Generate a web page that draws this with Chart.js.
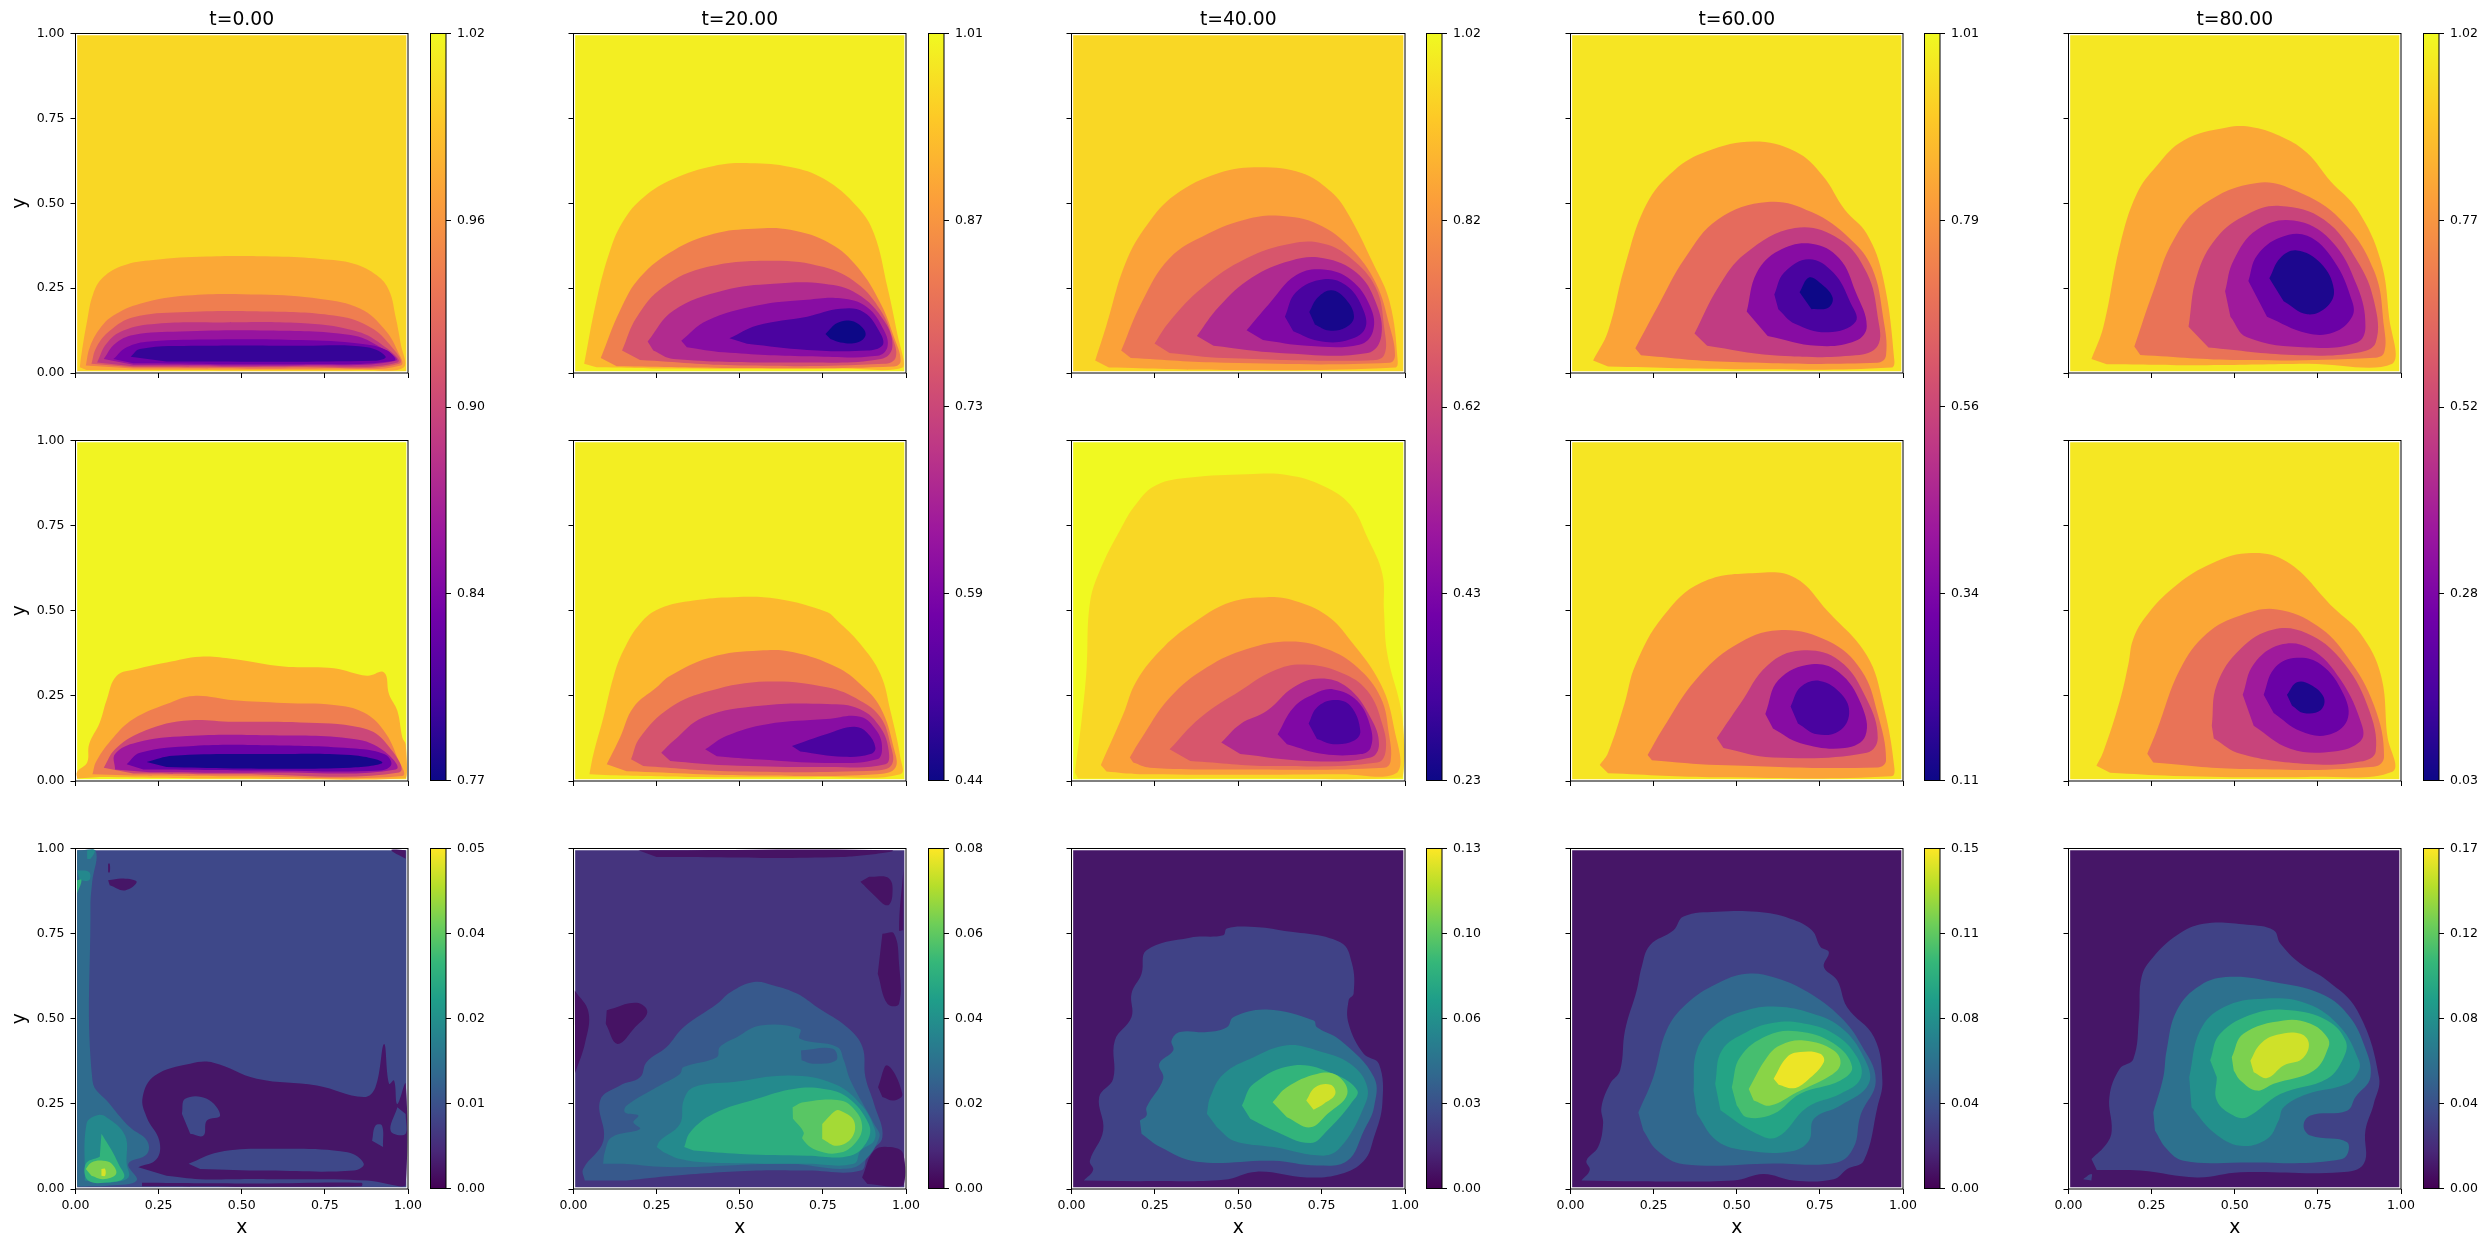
<!DOCTYPE html>
<html>
<head>
<meta charset="utf-8">
<title>contours</title>
<script src="https://cdn.jsdelivr.net/npm/chart.js@4/dist/chart.umd.js"></script>
<style>
  html, body { margin: 0; padding: 0; background: #fff; overflow: hidden; }
  canvas { position: absolute; }
</style>
</head>
<body>
<script>
const titles = ['t=0.00', 't=20.00', 't=40.00', 't=60.00', 't=80.00'];
const axisTicks = [0, 0.25, 0.5, 0.75, 1];

const barTicksField = [
  ['0.77', '0.84', '0.90', '0.96', '1.02'],
  ['0.44', '0.59', '0.73', '0.87', '1.01'],
  ['0.23', '0.43', '0.62', '0.82', '1.02'],
  ['0.11', '0.34', '0.56', '0.79', '1.01'],
  ['0.03', '0.28', '0.52', '0.77', '1.02']
];
const barTicksError = [
  ['0.00', '0.01', '0.02', '0.04', '0.05'],
  ['0.00', '0.02', '0.04', '0.06', '0.08'],
  ['0.00', '0.03', '0.06', '0.10', '0.13'],
  ['0.00', '0.04', '0.08', '0.11', '0.15'],
  ['0.00', '0.04', '0.08', '0.12', '0.17']
];

const plasma = ['#0d0887', '#46039f', '#7201a8', '#9c179e', '#bd3786', '#d8576b', '#ed7953', '#fb9f3a', '#fdca26', '#f0f921'];
const viridis = ['#440154', '#482878', '#3e4989', '#31688e', '#26828e', '#1f9e89', '#35b779', '#6ece58', '#b5de2b', '#fde725'];

// every band is [level, outline as x,y,x,y...] in data units, painted in order
const fieldBox = [.005,.005, .995,.005, .995,.995, .005,.995];

const exact_t0 = [
  [1.00, fieldBox],
  [.97, [.013,.017, .018,.056, .035,.154, .053,.233, .083,.282, .144,.317, .234,.333, .395,.343, .606,.343, .737,.336, .837,.322, .907,.287, .943,.243, .963,.164, .978,.086, .988,.017, .877,.009, .274,.009, .033,.009]],
  [.94, [.031,.022, .043,.076, .073,.13, .114,.169, .194,.204, .335,.228, .556,.231, .737,.218, .857,.189, .928,.13, .968,.066, .978,.022, .777,.013, .174,.013]],
  [.91, [.048,.027, .063,.076, .104,.125, .174,.164, .315,.179, .576,.181, .777,.169, .877,.14, .943,.086, .973,.027, .676,.017, .174,.017]],
  [.88, [.065,.031, .093,.086, .144,.125, .244,.145, .425,.149, .676,.147, .837,.125, .918,.086, .968,.031, .676,.02, .174,.02]],
  [.85, [.085,.041, .119,.086, .174,.112, .315,.122, .576,.125, .827,.112, .908,.081, .963,.036, .676,.023, .174,.024]],
  [.825, [.114,.041, .154,.076, .224,.093, .425,.099, .676,.097, .857,.086, .938,.066, .958,.036, .676,.026, .174,.029]],
  [.79, [.166,.048, .194,.071, .375,.08, .676,.08, .877,.076, .933,.048, .897,.036, .274,.034]]
];
const exact_t20 = [
  [.995, fieldBox],
  [.92, [.032,.027, .069,.213, .11,.361, .151,.45, .211,.518, .301,.572, .422,.61, .532,.618, .652,.607, .753,.572, .854,.489, .904,.41, .944,.253, .974,.115, .992,.017, .803,.013, .301,.013, .069,.017]],
  [.83, [.082,.044, .14,.184, .2,.282, .301,.361, .422,.41, .542,.425, .652,.422, .773,.381, .854,.312, .924,.204, .964,.105, .984,.036, .964,.019, .502,.015, .13,.02]],
  [.75, [.146,.066, .19,.164, .27,.253, .401,.312, .602,.331, .753,.312, .854,.263, .924,.184, .959,.105, .969,.046, .934,.027, .502,.022, .2,.038]],
  [.67, [.223,.093, .301,.184, .451,.243, .602,.263, .753,.263, .854,.233, .934,.154, .959,.076, .924,.041, .703,.031, .301,.041, .24,.066]],
  [.60, [.324,.095, .401,.154, .552,.199, .703,.216, .803,.22, .883,.194, .934,.125, .944,.076, .914,.051, .703,.049, .452,.061, .341,.076]],
  [.51, [.469,.102, .552,.14, .703,.166, .803,.189, .873,.179, .924,.115, .929,.081, .883,.066, .703,.068, .522,.086]],
  [.44, [.758,.115, .793,.147, .833,.154, .868,.135, .878,.11, .853,.09, .803,.09, .773,.1]]
];
const exact_t40 = [
  [.957, fieldBox],
  [.85, [.071,.037, .104,.138, .162,.324, .228,.438, .31,.524, .442,.589, .566,.606, .69,.589, .772,.539, .822,.481, .904,.324, .954,.209, .978,.037, .97,.016, .459,.009, .112,.016]],
  [.75, [.149,.066, .211,.209, .294,.338, .409,.41, .525,.453, .624,.463, .739,.438, .838,.367, .912,.266, .954,.138, .97,.052, .954,.03, .459,.03, .178,.044]],
  [.665, [.249,.087, .294,.152, .393,.252, .525,.338, .657,.381, .756,.381, .838,.338, .912,.252, .937,.138, .937,.052, .888,.037, .459,.044, .294,.059]],
  [.545, [.376,.109, .442,.195, .541,.281, .657,.331, .756,.338, .855,.295, .912,.209, .929,.109, .888,.059, .624,.059, .426,.08]],
  [.435, [.525,.126, .591,.202, .673,.288, .756,.305, .838,.274, .896,.195, .904,.123, .863,.083, .706,.08, .574,.097]],
  [.325, [.64,.166, .673,.238, .756,.276, .822,.259, .871,.195, .88,.13, .822,.095, .739,.095, .665,.123]],
  [.245, [.713,.18, .739,.223, .78,.244, .822,.218, .847,.166, .822,.134, .772,.125, .73,.143]]
];
const exact_t60 = [
  [.967, fieldBox],
  [.82, [.068,.037, .113,.123, .162,.309, .228,.496, .311,.596, .411,.653, .551,.682, .675,.653, .758,.582, .825,.481, .891,.41, .94,.281, .974,.037, .965,.016, .526,.011, .113,.019]],
  [.67, [.195,.073, .262,.195, .344,.338, .444,.453, .593,.504, .725,.474, .841,.395, .907,.309, .94,.166, .949,.052, .924,.03, .444,.034, .212,.052]],
  [.525, [.373,.116, .444,.252, .526,.352, .675,.427, .808,.395, .891,.295, .924,.166, .924,.08, .858,.052, .609,.052, .411,.08]],
  [.36, [.53,.181, .56,.295, .626,.36, .725,.381, .808,.338, .858,.238, .891,.138, .858,.095, .742,.08, .593,.109]],
  [.22, [.613,.231, .642,.295, .717,.335, .791,.295, .841,.209, .858,.152, .775,.12, .675,.145, .625,.188]],
  [.11, [.689,.238, .717,.281, .75,.266, .788,.223, .775,.192, .725,.188]]
];
const exact_t80 = [
  [.978, fieldBox],
  [.82, [.069,.041, .105,.136, .155,.377, .205,.527, .265,.61, .346,.685, .476,.723, .557,.723, .647,.693, .718,.648, .788,.565, .868,.482, .939,.331, .964,.166, .974,.027, .718,.027, .416,.023, .115,.026]],
  [.67, [.198,.078, .255,.241, .316,.392, .406,.497, .567,.56, .687,.535, .818,.452, .919,.301, .949,.136, .949,.06, .919,.045, .517,.038, .216,.053]],
  [.515, [.361,.136, .386,.286, .446,.399, .537,.467, .637,.492, .768,.452, .868,.331, .919,.211, .924,.09, .868,.06, .677,.053, .421,.075]],
  [.37, [.471,.241, .496,.331, .567,.422, .677,.449, .788,.392, .868,.256, .893,.136, .868,.09, .718,.075, .537,.105, .487,.166]],
  [.23, [.541,.271, .567,.346, .637,.399, .718,.404, .798,.331, .853,.211, .853,.166, .798,.12, .718,.117, .597,.166]],
  [.06, [.604,.279, .637,.339, .687,.361, .758,.324, .798,.247, .778,.196, .718,.173, .647,.211]]
];

const pred_t0 = [
  [1.017, fieldBox],
  [.975, [.005,.007, .005,.027, .035,.054, .041,.108, .073,.172, .093,.236, .124,.309, .184,.329, .274,.348, .375,.365, .475,.358, .626,.336, .777,.331, .877,.309, .928,.319, .943,.255, .968,.206, .983,.128, .993,.108, .993,.007, .475,.007, .073,.012]],
  [.94, [.051,.02, .063,.059, .114,.128, .174,.182, .274,.226, .355,.25, .475,.237, .626,.229, .777,.223, .867,.201, .928,.147, .968,.069, .983,.015, .475,.014, .174,.016]],
  [.895, [.085,.039, .119,.093, .194,.142, .325,.177, .475,.174, .676,.172, .857,.157, .928,.118, .973,.025, .475,.02, .174,.022]],
  [.855, [.119,.034, .119,.079, .184,.113, .335,.132, .576,.134, .837,.123, .928,.088, .963,.034, .576,.025, .224,.026]],
  [.82, [.154,.049, .194,.083, .355,.103, .576,.105, .827,.096, .928,.079, .95,.049, .918,.031, .576,.031, .204,.034]],
  [.775, [.214,.056, .294,.074, .576,.079, .827,.076, .923,.054, .827,.039, .475,.037, .274,.041]]
];
const pred_t20 = [
  [.995, fieldBox],
  [.92, [.048,.02, .06,.079, .09,.187, .12,.305, .15,.383, .2,.462, .261,.507, .361,.53, .481,.54, .612,.535, .762,.496, .792,.472, .862,.403, .923,.314, .953,.206, .983,.069, .983,.02, .762,.012, .361,.012, .11,.017]],
  [.83, [.1,.049, .14,.128, .18,.216, .25,.275, .291,.309, .411,.363, .561,.383, .662,.378, .792,.334, .862,.285, .923,.216, .963,.098, .968,.039, .913,.02, .561,.016, .16,.029]],
  [.75, [.173,.064, .2,.128, .291,.216, .411,.265, .582,.292, .762,.275, .862,.236, .923,.187, .953,.108, .958,.049, .913,.031, .461,.029, .21,.044]],
  [.67, [.264,.083, .301,.118, .391,.187, .562,.221, .762,.226, .862,.211, .923,.157, .948,.088, .938,.049, .762,.041, .461,.046, .291,.059]],
  [.60, [.396,.093, .461,.133, .582,.167, .762,.182, .862,.189, .912,.147, .928,.098, .913,.064, .762,.053, .562,.063, .431,.073]],
  [.51, [.657,.103, .762,.138, .843,.159, .883,.142, .908,.098, .893,.079, .812,.071, .682,.087]]
];
const pred_t40 = [
  [1.02, fieldBox],
  [.957, [.01,.025, .03,.177, .045,.325, .055,.521, .085,.618, .145,.736, .195,.815, .255,.869, .356,.891, .526,.901, .646,.899, .757,.866, .837,.81, .887,.716, .932,.609, .937,.5, .947,.373, .992,.186, .992,.01, .506,.008, .02,.007]],
  [.85, [.088,.047, .155,.196, .195,.294, .276,.393, .376,.471, .476,.525, .586,.54, .666,.53, .766,.486, .837,.412, .927,.285, .967,.157, .977,.025, .807,.02, .205,.02, .105,.028]],
  [.75, [.175,.069, .205,.118, .295,.245, .406,.334, .526,.388, .656,.41, .766,.388, .857,.334, .927,.245, .952,.137, .957,.059, .937,.039, .506,.034, .235,.039, .185,.054]],
  [.665, [.294,.093, .386,.186, .506,.265, .606,.324, .696,.342, .807,.319, .887,.265, .932,.167, .942,.088, .917,.054, .606,.044, .356,.059]],
  [.545, [.449,.113, .506,.167, .586,.206, .666,.275, .746,.301, .827,.275, .897,.186, .922,.108, .897,.069, .706,.059, .506,.079]],
  [.435, [.618,.137, .666,.216, .726,.255, .786,.269, .857,.235, .897,.157, .897,.098, .867,.079, .756,.079, .646,.108]],
  [.325, [.711,.169, .736,.216, .786,.238, .836,.221, .866,.147, .846,.118, .786,.108, .736,.123]]
];
const pred_t60 = [
  [.967, fieldBox],
  [.82, [.088,.047, .113,.083, .162,.226, .195,.34, .278,.483, .394,.583, .56,.611, .675,.597, .775,.497, .891,.369, .94,.226, .974,.04, .965,.014, .444,.011, .113,.023]],
  [.67, [.232,.076, .278,.154, .377,.297, .493,.397, .626,.443, .775,.411, .874,.326, .924,.197, .949,.061, .924,.04, .444,.047, .245,.061]],
  [.525, [.44,.126, .51,.226, .593,.34, .692,.383, .808,.354, .891,.24, .924,.126, .891,.083, .609,.069, .46,.097]],
  [.36, [.586,.197, .626,.297, .725,.343, .808,.319, .874,.226, .887,.133, .825,.097, .692,.111, .609,.154]],
  [.22, [.662,.219, .692,.276, .75,.294, .816,.254, .838,.197, .808,.147, .742,.137, .684,.169]]
];
const pred_t80 = [
  [.978, fieldBox],
  [.82, [.084,.045, .105,.087, .155,.238, .18,.343, .195,.418, .235,.486, .316,.568, .416,.632, .537,.669, .657,.644, .798,.508, .878,.433, .939,.313, .959,.132, .974,.027, .718,.012, .316,.015, .125,.024]],
  [.67, [.237,.08, .265,.147, .336,.329, .416,.433, .517,.486, .627,.504, .748,.456, .838,.365, .919,.222, .949,.072, .919,.042, .517,.035, .255,.054]],
  [.515, [.431,.162, .446,.283, .517,.388, .617,.445, .718,.433, .818,.358, .899,.222, .924,.087, .878,.057, .718,.05, .517,.08, .437,.125]],
  [.37, [.524,.253, .557,.343, .637,.4, .728,.388, .818,.298, .883,.162, .878,.117, .798,.087, .667,.095, .557,.162]],
  [.23, [.587,.253, .617,.328, .677,.361, .758,.343, .828,.253, .838,.178, .778,.135, .697,.147, .617,.2]],
  [.06, [.657,.253, .687,.29, .728,.283, .768,.245, .758,.208, .707,.2, .672,.222]]
];

const error_t0 = [
  [.011, fieldBox],
  [.0175, [.005,.995, .06,.995, .05,.9, .045,.828, .051,.319, .103,.25, .164,.181, .215,.142, .215,.103, .159,.074, .184,.025, .103,.01, .005,.007]],
  [.0235, [.028,.025, .033,.191, .063,.216, .093,.211, .149,.157, .154,.074, .159,.034, .103,.017]],
  [.0235, [.005,.936, .041,.931, .041,.907, .013,.907]],
  [.0235, [.035,.995, .058,.995, .045,.97, .035,.97]],
  [.0325, [.005,.907, .018,.907, .005,.868]],
  [.0325, [.078,.162, .109,.113, .129,.074, .146,.034, .103,.02, .038,.025, .031,.074, .073,.095]],
  [.04, [.031,.059, .048,.078, .083,.083, .109,.074, .122,.044, .083,.029, .048,.039]],
  [.047, [.078,.059, .089,.059, .089,.039, .078,.039]],
  [.003, [.189,.064, .244,.088, .252,.142, .214,.211, .202,.27, .239,.333, .345,.368, .415,.371, .545,.324, .726,.304, .867,.27, .902,.299, .928,.426, .943,.309, .958,.319, .968,.25, .993,.309, .993,.01, .877,.025, .576,.029, .375,.029, .274,.039]],
  [.003, [.2,.018, .55,.016, .86,.018, .86,.008, .2,.008]],
  [.003, [.098,.907, .144,.912, .184,.902, .149,.877, .103,.892]],
  [.003, [.098,.955, .103,.955, .103,.93, .098,.93]],
  [.003, [.993,.995, .95,.995, .993,.97]],
  [.011, [.32,.221, .33,.265, .395,.265, .435,.216, .395,.201, .385,.157, .345,.162]],
  [.011, [.34,.074, .43,.108, .576,.118, .818,.108, .867,.074, .837,.054, .576,.054, .375,.059]],
  [.011, [.892,.142, .902,.186, .922,.186, .925,.123]],
  [.011, [.968,.24, .948,.17, .993,.162, .993,.22]]
];
const error_t20 = [
  [.012, fieldBox],
  [.004, [.1,.525, .19,.547, .222,.52, .185,.475, .132,.426, .097,.485]],
  [.004, [.929,.75, .964,.75, .979,.662, .979,.544, .944,.544, .915,.632]],
  [.004, [.889,.917, .949,.912, .959,.863, .944,.833, .904,.863, .863,.902]],
  [.004, [.004,.583, .045,.52, .035,.43, .005,.34]],
  [.004, [.916,.299, .944,.363, .989,.279, .964,.26, .929,.27]],
  [.004, [.868,.034, .904,.113, .954,.123, .992,.103, .992,.01, .884,.015]],
  [.004, [.195,.995, .954,.995, .804,.975, .25,.975]],
  [.004, [.992,.937, .979,.76, .992,.76]],
  [.0225, [.034,.025, .029,.059, .09,.142, .08,.26, .14,.304, .2,.328, .22,.373, .28,.417, .331,.475, .432,.544, .472,.578, .542,.608, .602,.598, .672,.574, .733,.534, .823,.475, .869,.417, .878,.328, .904,.25, .929,.152, .885,.103, .864,.054, .703,.054, .552,.054, .301,.039, .16,.025]],
  [.03, [.089,.074, .094,.108, .115,.152, .2,.176, .18,.196, .195,.216, .155,.225, .16,.245, .25,.299, .32,.338, .331,.358, .431,.387, .44,.417, .491,.446, .562,.48, .681,.47, .681,.441, .793,.417, .813,.378, .833,.319, .904,.191, .92,.152, .864,.074, .803,.059, .652,.074, .301,.064, .15,.074]],
  [.0225, [.684,.407, .78,.412, .79,.378, .72,.368, .686,.378]],
  [.038, [.25,.123, .26,.142, .32,.191, .331,.26, .361,.299, .481,.314, .652,.333, .783,.309, .863,.25, .904,.181, .904,.142, .864,.113, .843,.074, .703,.074, .401,.078, .321,.088, .271,.108]],
  [.05, [.333,.123, .351,.167, .421,.221, .552,.265, .662,.294, .753,.294, .823,.27, .888,.191, .884,.142, .833,.098, .703,.098, .502,.103, .361,.113]],
  [.059, [.659,.24, .692,.255, .803,.26, .848,.23, .868,.186, .853,.142, .803,.107, .733,.113, .689,.147, .692,.167, .66,.206]],
  [.069, [.748,.191, .788,.23, .803,.23, .843,.201, .838,.152, .793,.127, .748,.147]]
];
const error_t40 = [
  [.008, fieldBox],
  [.026, [.037,.025, .065,.056, .055,.083, .095,.172, .083,.27, .125,.324, .13,.436, .18,.505, .18,.574, .21,.632, .225,.701, .355,.738, .455,.745, .466,.765, .536,.77, .626,.76, .806,.725, .841,.662, .846,.574, .831,.554, .831,.485, .876,.397, .922,.367, .932,.25, .907,.152, .877,.083, .807,.044, .706,.034, .556,.051, .456,.027, .205,.023]],
  [.047, [.205,.201, .225,.216, .225,.24, .275,.324, .263,.368, .305,.407, .3,.436, .325,.461, .406,.461, .466,.475, .486,.505, .586,.527, .726,.495, .736,.475, .807,.436, .907,.328, .907,.24, .877,.172, .827,.083, .736,.069, .606,.083, .376,.08, .266,.123, .21,.162]],
  [.0625, [.406,.221, .416,.27, .456,.338, .546,.387, .646,.422, .736,.407, .837,.367, .887,.299, .872,.23, .807,.123, .756,.098, .606,.123, .486,.142, .436,.181]],
  [.085, [.511,.245, .546,.309, .666,.363, .787,.338, .857,.289, .837,.25, .767,.172, .716,.135, .606,.172, .536,.206]],
  [.104, [.603,.255, .646,.299, .736,.338, .797,.333, .827,.279, .767,.22, .716,.181, .646,.211]],
  [.121, [.704,.26, .731,.299, .777,.306, .791,.279, .756,.25, .726,.233]]
];
const error_t60 = [
  [.009, fieldBox],
  [.03, [.033,.025, .058,.056, .048,.083, .083,.123, .098,.191, .093,.24, .119,.309, .149,.348, .164,.466, .199,.583, .214,.652, .239,.716, .31,.76, .34,.8, .44,.814, .561,.814, .661,.794, .726,.76, .752,.711, .777,.696, .762,.652, .802,.613, .832,.534, .913,.446, .938,.319, .923,.24, .882,.083, .832,.059, .792,.029, .671,.025, .581,.044, .49,.025, .159,.023]],
  [.05, [.204,.225, .249,.328, .289,.466, .349,.544, .44,.603, .53,.632, .611,.622, .712,.579, .812,.505, .872,.427, .918,.319, .872,.216, .852,.123, .802,.078, .611,.075, .34,.073, .261,.113, .219,.172]],
  [.07, [.37,.289, .38,.407, .44,.485, .53,.525, .611,.536, .712,.52, .812,.476, .882,.387, .897,.309, .812,.245, .732,.206, .717,.142, .661,.11, .53,.113, .44,.142, .38,.221]],
  [.087, [.435,.309, .455,.407, .53,.461, .611,.488, .691,.488, .792,.456, .862,.387, .872,.324, .812,.28, .712,.24, .621,.152, .551,.167, .451,.231]],
  [.105, [.485,.299, .51,.387, .591,.45, .681,.463, .792,.427, .847,.358, .812,.319, .691,.28, .611,.221, .53,.211, .5,.245]],
  [.123, [.536,.294, .591,.387, .631,.422, .702,.436, .792,.407, .812,.368, .782,.333, .681,.284, .601,.245, .551,.26]],
  [.146, [.611,.324, .651,.387, .691,.402, .751,.397, .762,.373, .712,.319, .671,.296, .626,.306]]
];
const error_t80 = [
  [.01, fieldBox],
  [.034, [.069,.088, .114,.132, .13,.172, .123,.27, .154,.353, .195,.382, .212,.505, .22,.623, .255,.681, .326,.745, .406,.779, .537,.776, .617,.76, .637,.721, .697,.662, .777,.613, .868,.525, .934,.328, .918,.25, .893,.172, .888,.074, .818,.049, .517,.049, .386,.034, .216,.054, .085,.056]],
  [.034, [.044,.029, .069,.044, .069,.025]],
  [.063, [.255,.225, .285,.328, .295,.407, .326,.525, .396,.598, .486,.623, .617,.608, .758,.574, .838,.515, .888,.426, .908,.328, .863,.27, .838,.23, .728,.216, .707,.186, .728,.157, .838,.137, .823,.088, .517,.078, .346,.083, .295,.118, .26,.172]],
  [.085, [.363,.328, .396,.466, .466,.534, .587,.559, .718,.544, .818,.475, .873,.378, .873,.348, .838,.309, .718,.279, .647,.24, .632,.201, .597,.147, .517,.127, .436,.167, .37,.24]],
  [.11, [.426,.378, .456,.456, .557,.515, .667,.525, .778,.495, .833,.436, .828,.387, .778,.324, .637,.279, .537,.211, .496,.216, .446,.26, .446,.328]],
  [.136, [.491,.387, .526,.456, .647,.495, .728,.485, .778,.446, .782,.417, .738,.348, .617,.309, .567,.289, .517,.319, .497,.348]],
  [.158, [.547,.377, .577,.426, .627,.453, .698,.456, .723,.426, .702,.382, .647,.363, .597,.326, .557,.343]]
];

const rows = [
  [exact_t0, exact_t20, exact_t40, exact_t60, exact_t80],
  [pred_t0, pred_t20, pred_t40, pred_t60, pred_t80],
  [error_t0, error_t20, error_t40, error_t60, error_t80]
];

// page layout, in px
const panelLeft = [75.5, 573.5, 1071.5, 1570.5, 2068.5];
const panelWidth = [332, 332, 333, 332, 332];
const panelTop = [33.5, 440.5, 848.5];
const panelHeight = [339, 340, 340];
const barLeft = [430.5, 928.5, 1426.5, 1924.5, 2423.5];
const barWidth = 15;
const tickFont = 12.5;
const labelFont = 18.75;

Chart.defaults.font.family = '"DejaVu Sans"';
Chart.defaults.font.size = tickFont;
Chart.defaults.color = '#000';

function addCanvas(left, top, w, h) {
  const c = document.createElement('canvas');
  c.width = Math.ceil(w);
  c.height = Math.ceil(h);
  c.style.left = left + 'px';
  c.style.top = top + 'px';
  document.body.appendChild(c);
  return c;
}

function hexToRgb(hex) {
  return [1, 3, 5].map(i => parseInt(hex.substr(i, 2), 16));
}

function cmapColor(cmap, f) {
  f = Math.min(1, Math.max(0, f)) * (cmap.length - 1);
  const i = Math.min(Math.floor(f), cmap.length - 2);
  const a = hexToRgb(cmap[i]), b = hexToRgb(cmap[i + 1]);
  const t = f - i;
  return 'rgb(' + a.map((v, k) => Math.round(v + (b[k] - v) * t)).join(',') + ')';
}

const spines = {
  id: 'spines',
  afterDraw(chart) {
    const { ctx, chartArea: a } = chart;
    ctx.save();
    ctx.strokeStyle = '#000';
    ctx.lineWidth = 1;
    ctx.strokeRect(a.left, a.top, a.right - a.left, a.bottom - a.top);
    ctx.restore();
  }
};

const tickGrid = { drawOnChartArea: false, drawTicks: true, tickLength: 5, tickColor: '#000', tickWidth: 1 };

function drawPanel(row, col) {
  const bands = rows[row][col];
  const labels = row === 2 ? barTicksError[col] : barTicksField[col];
  const lo = parseFloat(labels[0]), hi = parseFloat(labels[4]);
  const cmap = row === 2 ? viridis : plasma;
  const left = panelLeft[col], top = panelTop[row];
  const w = panelWidth[col], h = panelHeight[row];
  const marginLeft = 75.5;
  const marginTop = 33.5, marginBottom = 50, marginRight = 20;
  const canvas = addCanvas(left - marginLeft, top - marginTop, marginLeft + w + marginRight, marginTop + h + marginBottom);

  new Chart(canvas, {
    type: 'line',
    data: {
      datasets: bands.map((band, i) => ({
        data: band[1].reduce((pts, v, k, xy) => {
          if (k % 2 === 0) pts.push({ x: v, y: xy[k + 1] });
          return pts;
        }, []),
        fill: 'shape',
        backgroundColor: cmapColor(cmap, (band[0] - lo) / (hi - lo)),
        borderWidth: 0,
        pointRadius: 0,
        tension: band[1] === fieldBox ? 0 : 0.4,
        order: bands.length - i
      }))
    },
    options: {
      responsive: false,
      animation: false,
      devicePixelRatio: 1,
      events: [],
      layout: { padding: { top: row === 0 ? 0 : marginTop, right: marginRight, left: 0, bottom: 0 } },
      plugins: {
        legend: { display: false },
        tooltip: { enabled: false },
        title: {
          display: row === 0,
          text: titles[col],
          fullSize: false,
          font: { size: labelFont, weight: 'normal' },
          padding: { top: 9, bottom: 2 }
        }
      },
      scales: {
        x: {
          type: 'linear', min: 0, max: 1,
          afterBuildTicks: s => { s.ticks = axisTicks.map(v => ({ value: v })); },
          afterFit: s => { s.height = marginBottom; },
          grid: tickGrid,
          border: { display: false },
          ticks: {
            autoSkip: false, maxRotation: 0, padding: 4,
            callback: v => row === 2 ? v.toFixed(2) : ''
          },
          title: { display: row === 2, text: 'x', font: { size: labelFont }, padding: 0 }
        },
        y: {
          type: 'linear', min: 0, max: 1,
          afterBuildTicks: s => { s.ticks = axisTicks.map(v => ({ value: v })); },
          afterFit: s => { s.width = marginLeft; },
          grid: tickGrid,
          border: { display: false },
          ticks: {
            autoSkip: false, padding: 6,
            callback: v => col === 0 ? v.toFixed(2) : ''
          },
          title: { display: col === 0, text: 'y', font: { size: labelFont }, padding: { top: 9, bottom: 0 } }
        }
      }
    },
    plugins: [spines]
  });
}

function drawColorbar(col, labels, cmap, top, h) {
  const lo = parseFloat(labels[0]), hi = parseFloat(labels[labels.length - 1]);
  const pad = 15.5, padLeft = 2.5, axisW = 50;
  const canvas = addCanvas(barLeft[col] - padLeft, top - pad, padLeft + barWidth + axisW, h + 2 * pad);

  new Chart(canvas, {
    type: 'bar',
    data: {
      labels: [''],
      datasets: [{
        data: [[lo, hi]],
        barPercentage: 1,
        categoryPercentage: 1,
        borderWidth: 0,
        backgroundColor: ctx => {
          const a = ctx.chart.chartArea;
          if (!a) return cmap[0];
          const g = ctx.chart.ctx.createLinearGradient(0, a.bottom, 0, a.top);
          cmap.forEach((c, i) => g.addColorStop(i / (cmap.length - 1), c));
          return g;
        }
      }]
    },
    options: {
      responsive: false,
      animation: false,
      devicePixelRatio: 1,
      events: [],
      layout: { padding: { top: pad, bottom: pad, left: padLeft, right: 0 } },
      plugins: { legend: { display: false }, tooltip: { enabled: false } },
      scales: {
        x: { display: false },
        y: {
          position: 'right', min: lo, max: hi,
          afterBuildTicks: s => {
            s.ticks = labels.map((l, i) => ({ value: lo + (hi - lo) * i / (labels.length - 1) }));
          },
          afterFit: s => { s.width = axisW; },
          grid: tickGrid,
          border: { display: false },
          ticks: { autoSkip: false, padding: 6, callback: (v, i) => labels[i] }
        }
      }
    },
    plugins: [spines]
  });
}

for (let row = 0; row < 3; row++) {
  for (let col = 0; col < 5; col++) drawPanel(row, col);
}
for (let col = 0; col < 5; col++) {
  drawColorbar(col, barTicksField[col], plasma, panelTop[0], panelTop[1] + panelHeight[1] - panelTop[0]);
  drawColorbar(col, barTicksError[col], viridis, panelTop[2], panelHeight[2]);
}
</script>
</body>
</html>
